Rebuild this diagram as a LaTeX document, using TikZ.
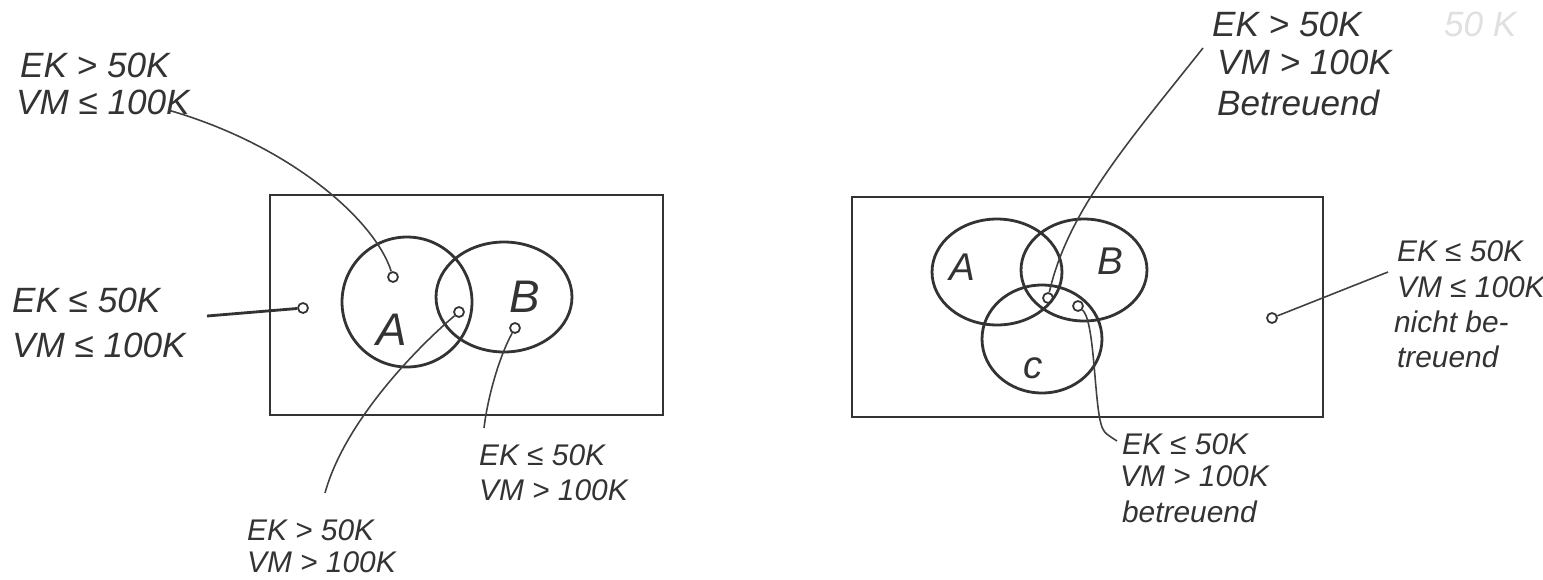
\documentclass[tikz,border=0pt]{standalone}
\usepackage{fontspec}
\setmainfont{Liberation Sans}
\begin{document}
\begin{tikzpicture}[
        x=0.02cm, y=-0.02cm,
        pencil/.style={draw=black!80, line width=1.6pt},
        wire/.style={draw=black!75, line width=0.9pt},
        dot/.style={circle, draw=black!80, line width=1pt, inner sep=0pt, minimum size=0.2cm},
        hand/.style={anchor=west, inner sep=1pt, text=black!80, font=\fontsize{20}{24}\selectfont\itshape},
        handsmall/.style={hand, font=\fontsize{17}{20}\selectfont\itshape},
        setlabel/.style={text=black!80, font=\fontsize{26}{30}\selectfont\itshape},
        ]
        \useasboundingbox (0,0) rectangle (1543,579);

        % Left diagram: universe with sets A and B
        \draw[pencil] (270,195) rectangle (663,415);
        \draw[pencil] (407,302) ellipse [x radius=1.3cm, y radius=1.3cm];
        \draw[pencil] (504,297) ellipse [x radius=1.36cm, y radius=1.1cm];
        \node[setlabel] (labA) at (392,330) {A};
        \node[setlabel] (labB) at (525,297) {B};

        % Sample points
        \node[dot] (dA) at (393,277) {};
        \node[dot] (dAB) at (459,312) {};
        \node[dot] (dB) at (515,328) {};
        \node[dot] (dOut) at (303,308) {};

        % Labels
        \node[hand] (ekTL) at (18,65) {EK > 50K};
        \node[hand] (vmTL) at (14,102) {VM ≤ 100K};
        \node[hand] (ekL) at (10,300) {EK ≤ 50K};
        \node[hand] (vmL) at (10,345) {VM ≤ 100K};
        \node[handsmall] (ekBM) at (477,455) {EK ≤ 50K};
        \node[handsmall] (vmBM) at (477,490) {VM > 100K};
        \node[handsmall] (ekB) at (245,530) {EK > 50K};
        \node[handsmall] (vmB) at (245,562) {VM > 100K};

        % Connectors
        \coordinate (tlEnd) at (168,110);
        \draw[wire] (tlEnd) .. controls (290,145) and (375,220) .. (dA);
        \coordinate (lEnd) at (207,316);
        \draw[pencil] (lEnd) -- (dOut);
        \coordinate (bEnd) at (325,493);
        \draw[wire] (dAB) .. controls (420,345) and (345,420) .. (bEnd);
        \coordinate (bmEnd) at (484,428);
        \draw[wire] (dB) .. controls (500,355) and (488,395) .. (bmEnd);

        % Right diagram: universe with sets A, B and C
        \draw[pencil] (852,197) rectangle (1323,417);
        \draw[pencil] (997,272) ellipse [x radius=1.3cm, y radius=1.06cm];
        \draw[pencil] (1084,270) ellipse [x radius=1.26cm, y radius=1.02cm];
        \draw[pencil] (1042,339) ellipse [x radius=1.2cm, y radius=1.08cm];
        \node[setlabel, font=\fontsize{22}{26}\selectfont\itshape] (labA2) at (962,267) {A};
        \node[setlabel, font=\fontsize{22}{26}\selectfont\itshape] (labB2) at (1110,261) {B};
        \node[setlabel, font=\fontsize{22}{26}\selectfont\itshape] (labC2) at (1033,368) {c};

        % Sample points
        \node[dot] (dABC) at (1048,298) {};
        \node[dot] (dBC) at (1078,306) {};
        \node[dot] (dOut2) at (1272,318) {};

        % Labels
        \node[hand] (ekTR) at (1210,24) {EK > 50K};
        \node[hand, text=black!12] (ghost) at (1442,24) {50 K};
        \node[hand] (vmTR) at (1215,62) {VM > 100K};
        \node[hand] (btTR) at (1215,103) {Betreuend};
        \node[handsmall] (ekR) at (1395,251) {EK ≤ 50K};
        \node[handsmall] (vmR) at (1395,287) {VM ≤ 100K};
        \node[handsmall] (nbR) at (1392,322) {nicht be-};
        \node[handsmall] (trR) at (1395,357) {treuend};
        \node[handsmall] (ekBR) at (1120,444) {EK ≤ 50K};
        \node[handsmall] (vmBR) at (1118,476) {VM > 100K};
        \node[handsmall] (btBR) at (1120,512) {betreuend};

        % Connectors
        \coordinate (trEnd) at (1203,48);
        \draw[wire] (dABC) .. controls (1068,210) and (1130,140) .. (trEnd);
        \coordinate (brEnd) at (1117,441);
        \draw[wire] (dBC) .. controls (1094,320) and (1094,390) .. (1100,420) .. controls (1103,432) .. (brEnd);
        \coordinate (rEnd) at (1388,272);
        \draw[wire] (dOut2) -- (rEnd);

    \end{tikzpicture}
\end{document}
